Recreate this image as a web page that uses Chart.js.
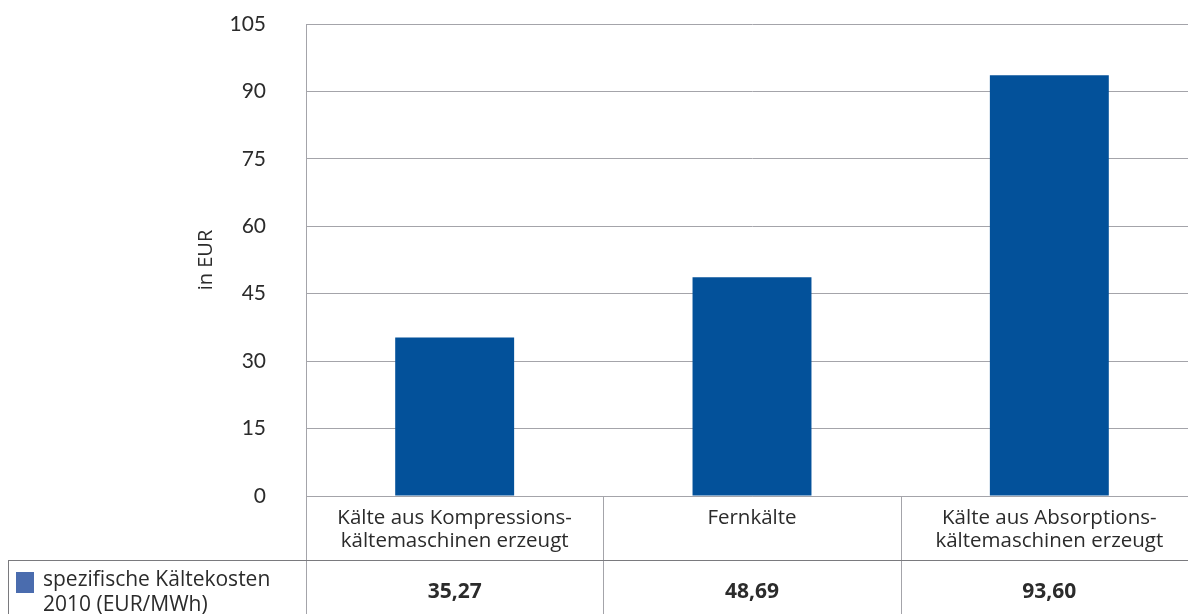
<!DOCTYPE html>
<html>
<head>
<meta charset="utf-8">
<script src="https://cdn.jsdelivr.net/npm/chart.js@4/dist/chart.umd.min.js"></script>
<style>
  html, body { margin: 0; padding: 0; overflow: hidden; background: #fff; }
  #c { display: block; }
</style>
</head>
<body>
<canvas id="c" width="1200" height="614" style="width:1200px;height:614px"></canvas>
<script>
// Kategorien (mehrzeilige Achsenbeschriftung)
const categories = [
  ["Kälte aus Kompressions-", "kältemaschinen erzeugt"],
  ["Fernkälte"],
  ["Kälte aus Absorptions-", "kältemaschinen erzeugt"]
];
// spezifische Kältekosten 2010 in EUR/MWh
const costs2010 = [35.27, 48.69, 93.60];
const seriesLabel = ["spezifische Kältekosten", "2010 (EUR/MWh)"];
const yAxisTitle = "in EUR";
const yMin = 0;
const yMax = 105;
const yStep = 15;

const BAR_COLOR = "#03519A";
const LEGEND_COLOR = "#4A6CAE";
const LINE_COLOR = "#A4A4AA";
const TEXT_COLOR = "#2b2b2b";
const LABEL_FONT = "'Open Sans', 'Noto Sans', sans-serif";
const TICK_FONT = "Lato, 'Open Sans', sans-serif";

function fmtDE(v) { return v.toFixed(2).replace(".", ","); }

// Datentabelle unter der Rubrikenachse
const dataTable = {
  id: "dataTable",
  afterDraw(chart) {
    const { ctx, scales: { x }, chartArea } = chart;
    const n = categories.length;
    const step = (x.getPixelForValue(n - 1) - x.getPixelForValue(0)) / (n - 1);
    const rowTop = chartArea.bottom + 64;
    const bottom = chart.height;
    ctx.save();
    ctx.strokeStyle = LINE_COLOR;
    ctx.lineWidth = 1;
    ctx.beginPath();
    // Spaltentrenner
    for (let i = 0; i <= n; i++) {
      const px = Math.round(x.getPixelForValue(i) - step / 2) + 0.5;
      ctx.moveTo(px, chartArea.bottom);
      ctx.lineTo(px, bottom);
    }
    ctx.stroke();
    ctx.strokeStyle = "#7a7a7e";
    ctx.beginPath();
    ctx.moveTo(8, rowTop + 0.5);
    ctx.lineTo(chart.width, rowTop + 0.5);
    ctx.moveTo(8.5, rowTop);
    ctx.lineTo(8.5, bottom);
    ctx.stroke();

    // Legendensymbol und Beschriftung
    ctx.fillStyle = LEGEND_COLOR;
    ctx.fillRect(16, rowTop + 12, 18, 21);
    ctx.fillStyle = TEXT_COLOR;
    ctx.font = "21px " + LABEL_FONT;
    ctx.textAlign = "left";
    ctx.textBaseline = "middle";
    ctx.fillText(seriesLabel[0], 43, rowTop + 20);
    ctx.fillText(seriesLabel[1], 43, rowTop + 45);

    // Werte
    ctx.font = "bold 21px " + LABEL_FONT;
    ctx.textAlign = "center";
    costs2010.forEach((v, i) => {
      ctx.fillText(fmtDE(v), x.getPixelForValue(i), rowTop + 32);
    });
    ctx.restore();
  }
};

new Chart(document.getElementById("c"), {
  type: "bar",
  data: {
    labels: categories,
    datasets: [{
      label: seriesLabel.join(" "),
      data: costs2010,
      backgroundColor: BAR_COLOR,
      borderWidth: 0,
      categoryPercentage: 1,
      barPercentage: 0.4
    }]
  },
  options: {
    responsive: false,
    animation: false,
    devicePixelRatio: 1,
    layout: { padding: { top: 24, left: 190, right: 2, bottom: 0 } },
    plugins: {
      legend: { display: false },
      tooltip: { enabled: false },
      title: { display: false }
    },
    scales: {
      x: {
        offset: true,
        grid: { display: false, drawTicks: false },
        border: { display: true, color: LINE_COLOR, width: 1 },
        ticks: {
          padding: 10,
          color: TEXT_COLOR,
          font: { family: LABEL_FONT, size: 20.5, lineHeight: 1.15 },
          maxRotation: 0,
          autoSkip: false
        },
        afterFit(scale) { scale.height = 118; }
      },
      y: {
        min: yMin,
        max: yMax,
        grid: { color: LINE_COLOR, lineWidth: 1, drawTicks: false },
        border: { display: true, color: LINE_COLOR, width: 1 },
        ticks: {
          stepSize: yStep,
          padding: 40,
          color: TEXT_COLOR,
          font: { family: TICK_FONT, size: 21 }
        },
        title: {
          display: true,
          text: yAxisTitle,
          color: TEXT_COLOR,
          font: { family: LABEL_FONT, size: 20 },
          padding: { top: 4, bottom: 0 }
        },
        afterFit(scale) {
          scale.width = 116;
          // Nur die halbe Beschriftungshöhe oben/unten freihalten
          scale.paddingTop = 0;
          scale.paddingBottom = 0;
        }
      }
    }
  },
  plugins: [dataTable]
});
</script>
</body>
</html>
